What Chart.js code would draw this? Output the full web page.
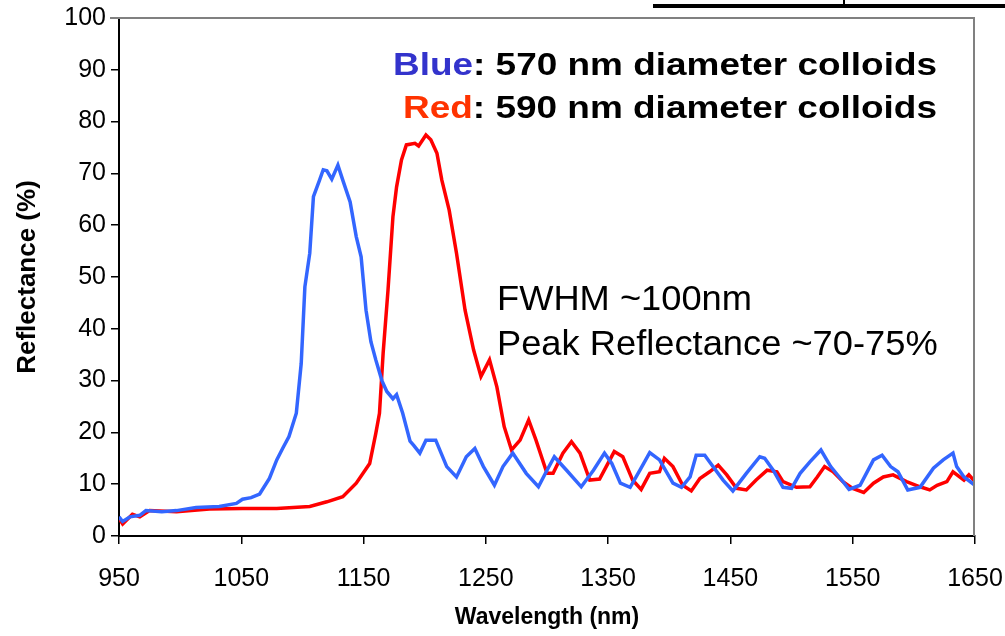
<!DOCTYPE html>
<html>
<head>
<meta charset="utf-8">
<script src="https://cdn.jsdelivr.net/npm/chart.js@4"></script>
<style>
  html, body { margin: 0; padding: 0; background: #fff; }
  #wrap { width: 1005px; height: 636px; }
</style>
</head>
<body>
<div id="wrap"><canvas id="grafica-reflectancia"></canvas></div>
<script>
// datos
const blueWavelength = [950, 953, 959, 967, 972, 985, 997, 1013, 1032, 1046, 1051, 1058, 1065, 1073, 1079, 1084, 1089, 1095, 1099, 1102, 1106, 1109, 1114, 1117, 1120, 1124, 1129, 1133, 1139, 1144, 1148, 1152, 1156, 1160, 1165, 1169, 1174, 1177, 1182, 1188, 1191, 1196, 1201, 1209, 1218, 1226, 1234, 1241, 1248, 1257, 1264, 1272, 1283, 1293, 1300, 1306, 1316, 1328, 1338, 1347, 1353, 1360, 1368, 1376, 1384, 1392, 1403, 1410, 1417, 1422, 1429, 1433, 1444, 1452, 1463, 1474, 1478, 1485, 1493, 1500, 1507, 1515, 1524, 1532, 1540, 1547, 1556, 1567, 1574, 1581, 1587, 1595, 1605, 1616, 1624, 1632, 1635, 1641, 1650];
const blueReflectance = [3.7, 2.8, 3.7, 4.0, 4.9, 4.7, 4.9, 5.5, 5.7, 6.3, 7.1, 7.4, 8.1, 11.1, 14.7, 17.0, 19.2, 23.7, 33.3, 48.1, 54.6, 65.5, 68.7, 70.7, 70.5, 68.9, 71.6, 68.7, 64.5, 57.8, 53.9, 43.6, 37.5, 34.0, 30.0, 27.9, 26.5, 27.3, 23.7, 18.3, 17.5, 16.0, 18.5, 18.5, 13.4, 11.4, 15.3, 16.9, 13.4, 9.8, 13.4, 16.0, 12.1, 9.5, 12.7, 15.3, 12.7, 9.5, 12.7, 16.0, 14.0, 10.2, 9.4, 12.7, 16.1, 14.7, 10.2, 9.4, 11.4, 15.6, 15.6, 14.3, 10.8, 8.7, 12.1, 15.3, 15.0, 12.7, 9.4, 9.2, 12.1, 14.3, 16.6, 13.4, 11.1, 9.0, 9.8, 14.7, 15.6, 13.4, 12.4, 8.9, 9.4, 13.1, 14.7, 16.0, 13.4, 11.4, 9.8];

const redWavelength = [950, 953, 961, 967, 975, 997, 1024, 1051, 1079, 1106, 1120, 1133, 1144, 1155, 1160, 1163, 1166, 1170, 1174, 1177, 1181, 1185, 1192, 1195, 1201, 1205, 1210, 1214, 1220, 1226, 1233, 1240, 1246, 1253, 1259, 1265, 1271, 1278, 1285, 1291, 1300, 1305, 1313, 1320, 1327, 1335, 1343, 1355, 1362, 1370, 1377, 1384, 1392, 1396, 1403, 1411, 1418, 1425, 1433, 1440, 1447, 1455, 1463, 1471, 1480, 1488, 1493, 1504, 1515, 1521, 1527, 1534, 1542, 1550, 1559, 1567, 1575, 1583, 1594, 1605, 1613, 1619, 1627, 1632, 1641, 1645, 1650];
const redReflectance = [3.4, 2.3, 4.2, 3.7, 4.9, 4.7, 5.2, 5.3, 5.3, 5.7, 6.6, 7.6, 10.2, 14.0, 19.8, 23.7, 35.3, 47.5, 61.6, 67.4, 72.6, 75.5, 75.8, 75.3, 77.4, 76.5, 73.9, 68.7, 62.9, 54.6, 43.6, 35.9, 30.8, 34.0, 28.8, 21.1, 16.6, 18.5, 22.4, 18.5, 12.1, 12.1, 16.0, 18.2, 16.0, 10.8, 11.0, 16.3, 15.3, 10.8, 9.0, 12.1, 12.4, 15.0, 13.4, 9.8, 8.7, 11.1, 12.4, 13.7, 11.8, 9.2, 8.9, 10.8, 12.7, 12.4, 10.5, 9.4, 9.5, 11.4, 13.4, 12.4, 10.5, 9.2, 8.4, 10.2, 11.4, 11.8, 10.5, 9.5, 8.9, 9.8, 10.5, 12.4, 10.8, 11.8, 10.5];

const xTicks = [950, 1050, 1150, 1250, 1350, 1450, 1550, 1650];
const yTicks = [0, 10, 20, 30, 40, 50, 60, 70, 80, 90, 100];

const FUENTE = "'Liberation Sans', Arial, sans-serif";

function puntos(xs, ys) {
  return xs.map((x, i) => ({ x: x, y: ys[i] }));
}

// marco gris, textos y la barra negra de arriba
const extras = {
  id: "extras",
  afterDraw(chart) {
    const { ctx, chartArea } = chart;
    ctx.save();
    ctx.strokeStyle = "#808080";
    ctx.lineWidth = 2;
    ctx.beginPath();
    ctx.moveTo(110, chartArea.top);
    ctx.lineTo(chartArea.right - 1, chartArea.top);
    ctx.lineTo(chartArea.right - 1, chartArea.bottom);
    ctx.stroke();

    // barra negra cortada arriba a la derecha
    ctx.fillStyle = "#000";
    ctx.fillRect(653, 4, 352, 4);
    ctx.fillRect(843, 0, 2, 4);

    // leyenda en texto
    function linea(parte1, color1, parte2, xIzq, xDer, base) {
      ctx.font = "bold 32px " + FUENTE;
      const w1 = ctx.measureText(parte1).width;
      const w2 = ctx.measureText(parte2).width;
      const sx = (xDer - xIzq) / (w1 + w2);
      ctx.save();
      ctx.translate(xIzq, base);
      ctx.scale(sx, 1);
      ctx.textBaseline = "alphabetic";
      ctx.textAlign = "left";
      ctx.fillStyle = color1;
      ctx.fillText(parte1, 0, 0);
      ctx.fillStyle = "#000";
      ctx.fillText(parte2, w1, 0);
      ctx.restore();
    }
    linea("Blue", "#3333cc", ": 570 nm diameter colloids", 393, 937, 75);
    linea("Red", "#ff3300", ": 590 nm diameter colloids", 403, 937, 118);

    ctx.font = "35px " + FUENTE;
    const wF = ctx.measureText("FWHM ~100nm").width;
    const sF = 255 / wF;
    ctx.save();
    ctx.translate(497, 0);
    ctx.scale(sF, 1);
    ctx.fillStyle = "#000";
    ctx.textAlign = "left";
    ctx.textBaseline = "alphabetic";
    ctx.fillText("FWHM ~100nm", 0, 310);
    ctx.fillText("Peak Reflectance ~70-75%", 0, 355);
    ctx.restore();
    ctx.restore();
  },
};

const ctx = document.getElementById("grafica-reflectancia").getContext("2d");
const myChart = new Chart(ctx, {
  type: "line",
  data: {
    datasets: [
      {
        label: "Blue",
        data: puntos(blueWavelength, blueReflectance),
        borderColor: "#3366ff",
        borderWidth: 3.5,
        pointRadius: 0,
        tension: 0,
        fill: false,
      },
      {
        label: "Red",
        data: puntos(redWavelength, redReflectance),
        borderColor: "#ff0000",
        borderWidth: 3.5,
        pointRadius: 0,
        tension: 0,
        fill: false,
      },
    ],
  },
  options: {
    responsive: true,
    maintainAspectRatio: false,
    animation: false,
    layout: {
      padding: { left: 0, right: 30, top: 18, bottom: 0 },
    },
    scales: {
      x: {
        type: "linear",
        min: 950,
        max: 1650,
        afterBuildTicks: (scale) => {
          scale.ticks = xTicks.map((v) => ({ value: v }));
        },
        afterFit: (scale) => {
          scale.height = 100;
          // sin relleno extra para la ultima etiqueta
          scale.paddingLeft = 0;
          scale.paddingRight = 0;
        },
        border: { color: "#000", width: 2 },
        grid: {
          drawOnChartArea: false,
          drawTicks: true,
          tickLength: 8,
          color: "#000",
          lineWidth: 1.5,
        },
        ticks: {
          color: "#000",
          padding: 20,
          maxRotation: 0,
          callback: (value) => String(value),
          font: { size: 25, family: FUENTE },
        },
        title: {
          display: true,
          text: "Wavelength (nm)",
          color: "#000",
          padding: { top: 0, bottom: 5 },
          font: { size: 23, weight: "bold", family: FUENTE },
        },
      },
      y: {
        min: 0,
        max: 100,
        afterBuildTicks: (scale) => {
          scale.ticks = yTicks.map((v) => ({ value: v }));
        },
        afterFit: (scale) => {
          scale.width = 119;
          scale.paddingTop = 0;
          scale.paddingBottom = 0;
        },
        border: { color: "#000", width: 2 },
        grid: {
          drawOnChartArea: false,
          drawTicks: true,
          tickLength: 8,
          color: "#000",
          lineWidth: 1.5,
        },
        ticks: {
          color: "#000",
          padding: 5,
          callback: (value) => String(value),
          font: { size: 25, family: FUENTE },
        },
        title: {
          display: true,
          text: "Reflectance (%)",
          color: "#000",
          padding: { top: 12, bottom: 0 },
          font: { size: 26, weight: "bold", family: FUENTE },
        },
      },
    },
    plugins: {
      legend: { display: false },
      tooltip: { enabled: false },
    },
  },
  plugins: [extras],
});
</script>
</body>
</html>
